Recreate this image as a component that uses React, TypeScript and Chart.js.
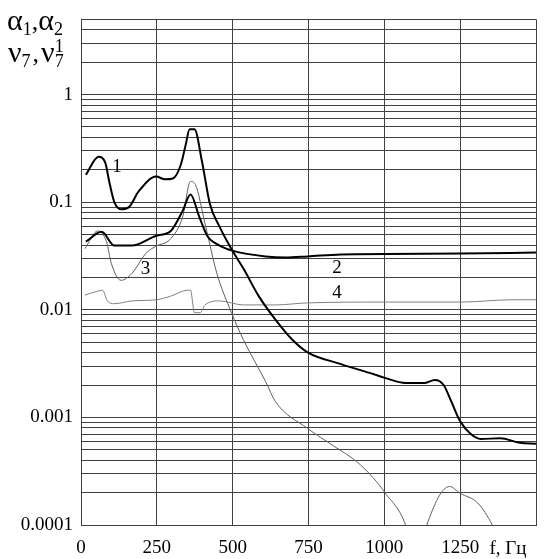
import React, { useEffect, useRef } from "react";
import { Chart, registerables } from "chart.js";

Chart.register(...registerables);

// ---- data (f in Hz) ----
const freq1 = [16, 58, 80, 93, 110, 132, 158, 190, 248, 277, 303, 329, 345, 358, 374, 399, 425, 457, 499, 535, 586, 641, 696, 747, 857, 963, 1002, 1070, 1134, 1166, 1195, 1221, 1250, 1285, 1318, 1382, 1447, 1500];
const alpha1 = [0.18, 0.264, 0.233, 0.156, 0.1, 0.086, 0.09, 0.126, 0.173, 0.163, 0.166, 0.223, 0.34, 0.477, 0.477, 0.238, 0.096, 0.059, 0.0355, 0.0243, 0.0134, 0.0081, 0.0053, 0.00403, 0.00313, 0.00253, 0.00233, 0.00209, 0.00209, 0.00223, 0.00201, 0.0014, 0.00092, 0.0007, 0.00063, 0.00064, 0.00058, 0.00057];

const freq2 = [16, 68, 110, 168, 248, 296, 335, 361, 390, 416, 457, 499, 609, 673, 747, 857, 1250, 1500];
const alpha2 = [0.043, 0.053, 0.0395, 0.0395, 0.0488, 0.054, 0.083, 0.118, 0.073, 0.0488, 0.0395, 0.0355, 0.0313, 0.0306, 0.0313, 0.0327, 0.0333, 0.034];

const freq3 = [13, 55, 84, 100, 132, 168, 213, 245, 296, 335, 361, 377, 409, 448, 496, 535, 609, 641, 747, 834, 908, 963, 1002, 1070, 1090, 1120, 1140, 1215, 1250, 1308, 1356, 1380];
const nu7 = [0.037, 0.054, 0.043, 0.027, 0.0188, 0.0218, 0.0333, 0.0387, 0.0458, 0.073, 0.156, 0.146, 0.063, 0.0218, 0.0094, 0.0053, 0.00214, 0.0014, 0.00079, 0.00054, 0.00039, 0.000275, 0.0002, 0.0001, 0.00006, 0.00006, 0.0001, 0.000228, 0.000197, 0.00016, 0.0001, 0.00007];

const freq4 = [13, 55, 71, 87, 110, 168, 248, 296, 351, 361, 374, 393, 409, 457, 535, 641, 747, 1002, 1250, 1424, 1500];
const nu7b = [0.0137, 0.0149, 0.0152, 0.0121, 0.0114, 0.0121, 0.0124, 0.0134, 0.0152, 0.0152, 0.0094, 0.0094, 0.0111, 0.0121, 0.0111, 0.0111, 0.0116, 0.0118, 0.0118, 0.0124, 0.0124];

const xTickValues = [0, 250, 500, 750, 1000, 1250, 1500];
const xTickLabels = ["0", "250", "500", "750", "1000", "1250", ""];
const xAxisTitle = "f, Гц";

const yLabelValues = [0.0001, 0.001, 0.01, 0.1, 1];
const yLabelTexts = ["0.0001", "0.001", "0.01", "0.1", "1"];
const yMin = 0.0001;
const yMax = 5;

const curveLabels = ["1", "2", "3", "4"];
const curveLabelF = [119, 844, 213, 844];
const curveLabelV = [0.214, 0.0243, 0.0238, 0.0143];

const FONT = "'Liberation Serif', 'Times New Roman', serif";
const GRID = "#404040";

function buildYGrid(): number[] {
  const out: number[] = [];
  for (let e = -4; e <= 0; e++) {
    for (let k = 1; k <= 9; k++) {
      const v = k * Math.pow(10, e);
      if (v <= yMax * 1.0001) out.push(parseFloat(v.toPrecision(3)));
    }
  }
  return out;
}

function pts(xs: number[], ys: number[]) {
  return xs.map((x, i) => ({ x, y: ys[i] }));
}

type Part = { t: string; size: number; dy: number; dx?: number; stackNext?: boolean };

function drawParts(ctx: CanvasRenderingContext2D, x: number, base: number, parts: Part[]) {
  let cx = x;
  let stackW = 0;
  for (const p of parts) {
    ctx.font = `${p.size}px ${FONT}`;
    const w = ctx.measureText(p.t).width;
    ctx.fillText(p.t, cx + (p.dx || 0), base + p.dy);
    if (p.stackNext) {
      stackW = w;
    } else {
      cx += Math.max(w, stackW);
      stackW = 0;
    }
  }
}

const annotPlugin = {
  id: "annot",
  afterDraw(chart: any) {
    const ctx = chart.ctx as CanvasRenderingContext2D;
    const xs = chart.scales.x;
    const ys = chart.scales.y;
    ctx.save();
    ctx.fillStyle = "#000";
    ctx.textAlign = "center";
    ctx.textBaseline = "middle";
    ctx.font = `19px ${FONT}`;
    for (let i = 0; i < curveLabels.length; i++) {
      ctx.fillText(curveLabels[i], xs.getPixelForValue(curveLabelF[i]), ys.getPixelForValue(curveLabelV[i]));
    }
    // x axis title at the last tick position
    ctx.textAlign = "center";
    ctx.fillText(xAxisTitle, xs.getPixelForValue(1500) - 28, chart.chartArea.bottom + 24);
    // y axis title
    ctx.textAlign = "left";
    ctx.textBaseline = "alphabetic";
    drawParts(ctx, 7, 30, [
      { t: "α", size: 30, dy: 0 },
      { t: "1", size: 18, dy: 5 },
      { t: ",", size: 26, dy: 0 },
      { t: "α", size: 30, dy: 0 },
      { t: "2", size: 18, dy: 5 },
    ]);
    drawParts(ctx, 8, 62, [
      { t: "ν", size: 30, dy: 0 },
      { t: "7", size: 18, dy: 5 },
      { t: ",", size: 26, dy: 0, dx: 2 },
      { t: "ν", size: 30, dy: 0, dx: 4 },
      { t: "1", size: 18, dy: -10, dx: 4, stackNext: true },
      { t: "7", size: 18, dy: 5, dx: 4 },
    ]);
    ctx.restore();
  },
};

export default function App() {
  const ref = useRef<HTMLCanvasElement | null>(null);
  useEffect(() => {
    if (!ref.current) return;
    const yGrid = buildYGrid();
    const chart = new Chart(ref.current, {
      type: "line",
      data: {
        datasets: [
          { data: pts(freq1, alpha1), borderColor: "#000", borderWidth: 2, pointRadius: 0, cubicInterpolationMode: "monotone" },
          { data: pts(freq2, alpha2), borderColor: "#000", borderWidth: 2, pointRadius: 0, cubicInterpolationMode: "monotone" },
          { data: pts(freq3, nu7), borderColor: "#606060", borderWidth: 1, pointRadius: 0, cubicInterpolationMode: "monotone" },
          { data: pts(freq4, nu7b), borderColor: "#808080", borderWidth: 1, pointRadius: 0, cubicInterpolationMode: "monotone" },
        ],
      },
      options: {
        responsive: false,
        animation: false,
        layout: { padding: { top: 13, right: 1, left: 0, bottom: 0 } },
        plugins: { legend: { display: false }, tooltip: { enabled: false } },
        scales: {
          x: {
            type: "linear",
            min: 0,
            max: 1500,
            afterBuildTicks: (s: any) => {
              s.ticks = xTickValues.map((v) => ({ value: v }));
            },
            afterFit: (s: any) => {
              s.height = 34;
            },
            ticks: {
              autoSkip: false,
              maxRotation: 0,
              padding: 12,
              color: "#000",
              font: { family: FONT, size: 19 },
              callback: (v: any, i: number) => xTickLabels[i],
            },
            grid: { color: GRID, lineWidth: 1, drawTicks: false },
            border: { display: true, color: GRID },
          },
          y: {
            type: "logarithmic",
            min: yMin,
            max: yMax,
            afterBuildTicks: (s: any) => {
              s.ticks = yGrid.map((v) => ({ value: v }));
            },
            afterFit: (s: any) => {
              s.width = 81;
            },
            ticks: {
              autoSkip: false,
              padding: 8,
              color: "#000",
              font: { family: FONT, size: 19 },
              callback: (v: any) => {
                const idx = yLabelValues.findIndex((lv) => Math.abs(lv - v) / lv < 1e-6);
                return idx >= 0 ? yLabelTexts[idx] : "";
              },
            },
            grid: { color: GRID, lineWidth: 1, drawTicks: false },
            border: { display: true, color: GRID },
          },
        },
      },
      plugins: [annotPlugin],
    } as any);
    return () => chart.destroy();
  }, []);
  return (
    <div style={{ position: "absolute", left: 0, top: 0, width: 548, height: 559, background: "#fff" }}>
      <canvas ref={ref} width={548} height={559} style={{ display: "block" }} />
    </div>
  );
}
